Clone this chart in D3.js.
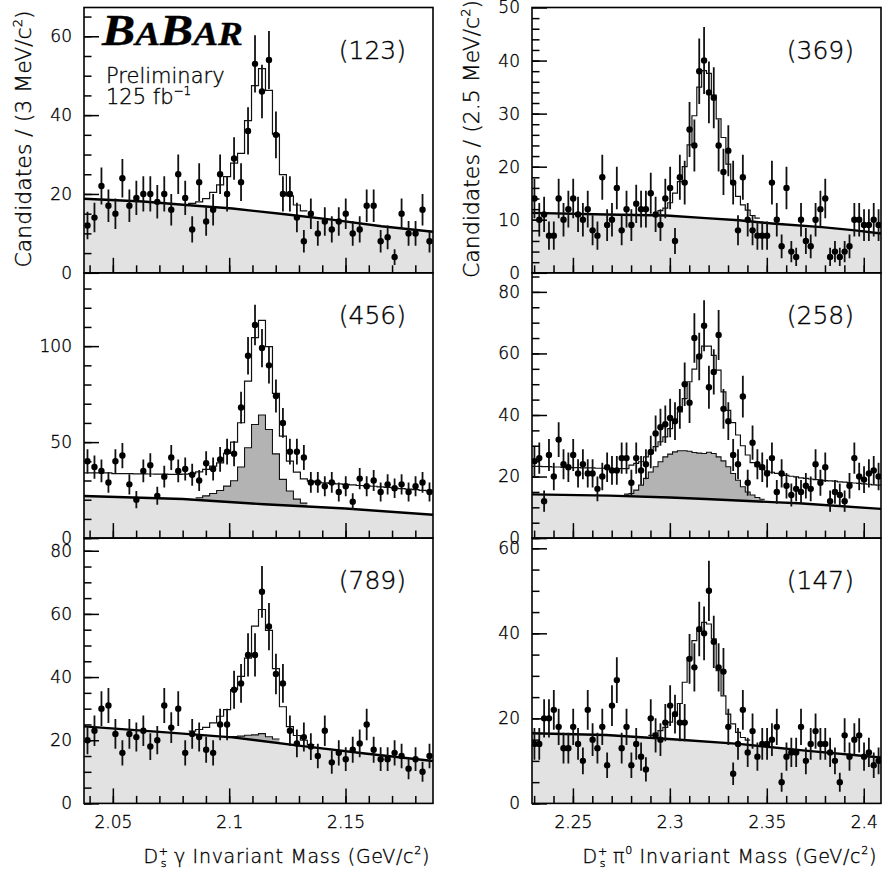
<!DOCTYPE html>
<html>
<head>
<meta charset="utf-8">
<script src="https://cdn.jsdelivr.net/npm/d3@7"></script>
<style>
  body { margin: 0; background: #fff; }
  svg text { font-family: "DejaVu Sans", sans-serif; font-weight: 200; fill: #000; stroke: #000; stroke-width: 0.35px; }
</style>
</head>
<body>
<div id="chart"></div>
<script>
// binning of the two mass spectra (GeV/c^2)
const gammaRange = [2.0376, 2.1876], gammaBin = 0.003;
const pi0Range = [2.2289, 2.4089], pi0Bin = 0.0025;

// (123)  Ds* gamma
const data123 = [12,14,22,17,15,24,17,19,20,20,18,20,16,25,19,11,23,13,16,25,20,29,23,36,53,46,54,35,20,20,14,8,15,10,13,11,13,15,10,11,17,17,8,9,4,15,10,10,16,8];
const fit123Start = 14;
const fit123 = [17.3,17.6,18.0,18.8,20.4,22.3,24.4,27.8,30.3,38.6,47.5,51.8,46.3,35.2,24.9,19.5,17.2,15.7];
const bkg123 = [[2.0376,18.8],[2.063,18.1],[2.0815,17.2],[2.1014,16.3],[2.123,14.9],[2.144,13.5],[2.1655,11.8],[2.1876,10.4]];

// (456)
const data456 = [40,37,35,29,40,43,28,20,35,38,22,32,42,35,36,33,30,39,36,41,45,44,68,95,111,99,90,74,60,45,45,42,29,29,27,29,24,27,19,31,27,30,24,28,26,28,24,27,29,24];
const fit456Start = 0;
const fit456 = [34.0,34.0,34.0,34.0,33.6,33.6,33.6,33.5,33.5,33.4,33.3,33.3,33.2,33.2,33.3,33.6,34.5,35.8,37.5,39.2,44.1,50.0,60.1,81.8,104.4,113.4,99.7,75.4,53.1,40.1,34.4,30.9,29.7,29.2,28.8,28.5,28.2,28.0,27.7,27.4,27.2,27.0,26.7,26.4,26.1,25.8,25.5,25.2,24.9,24.6];
const comp456Start = 16;
const comp456 = [21.0,22.0,23.2,24.8,27.1,29.9,37.0,47.1,59.2,64.1,56.6,43.9,30.6,24.5,20.3,18.2];
const bkg456 = [[2.0376,21.9],[2.08,20.4],[2.115,17.6],[2.15,15.4],[2.1876,12.2]];

// (789)
const data789 = [20,23,30,31,22,16,22,21,23,18,20,31,24,30,16,22,21,17,16,25,25,36,38,47,47,67,56,41,38,23,19,21,18,15,23,13,16,14,17,19,25,17,14,14,16,15,11,14,10,15];
const fit789Start = 15;
const fit789 = [22.9,23.4,24.1,25.5,27.6,29.7,36.0,40.2,46.0,56.1,61.4,54.8,42.7,30.6,24.3,21.5,20.0,18.6];
const comp789Start = 21;
const comp789 = [21.2,21.3,21.6,21.7,22.1,21.1,20.4];
const bkg789 = [[2.0376,24.4],[2.0729,22.5],[2.1014,20.9],[2.1299,18.3],[2.1584,15.8],[2.1876,13.4]];

// (369)  Ds* pi0
const data369 = [14,10,11,7,7,14,10,12,14,11,10,12,8,7,18,9,10,16,8,12,9,13,12,12,15,11,9,14,16,6,18,17,27,24,38,40,34,33,24,19,23,17,8,18,10,8,7,7,7,17,10,5,16,4,3,10,6,5,10,12,14,3,4,3,4,5,10,10,9,9,10,9];
const fit369Start = 25;
const fit369 = [11.3,11.7,12.2,13.2,15.0,17.2,20.0,24.1,29.6,35.0,38.1,37.6,33.5,29.0,25.5,20.5,16.9,14.4,12.8,11.8,10.8,10.3];
const bkg369 = [[2.2289,11.3],[2.2671,11.0],[2.298,10.8],[2.3185,10.3],[2.3356,9.9],[2.3527,9.3],[2.3784,8.6],[2.3956,8.0],[2.4089,7.4]];

// (258)
const data258 = [25,26,12,27,20,32,24,23,27,21,24,21,21,16,20,23,22,22,26,26,18,26,22,24,28,34,36,37,39,38,42,50,44,65,59,69,49,54,66,42,38,27,24,46,18,31,24,23,21,26,15,21,17,14,16,15,17,16,24,18,23,12,15,14,12,17,26,20,19,21,22,20];
const fit258Start = 0;
const fit258 = [23.3,23.3,23.2,23.2,23.1,23.1,23.0,23.0,22.9,22.9,22.8,22.8,22.8,22.7,22.7,22.7,22.6,22.6,22.6,22.6,
  23.7,24.3,24.8,26.4,27.5,29.7,31.3,32.9,35.6,38.3,41.0,45.3,50.8,54.9,59.4,62.4,62.4,59.4,54.6,47.5,
  41.5,37.5,33.5,30.0,27.0,24.5,23.2,22.3,21.8,21.4,21.0,20.7,20.4,20.1,19.9,19.6,19.4,19.2,19.0,18.9,
  18.7,18.6,18.5,18.3,18.2,18.0,17.9,17.8,17.6,17.5,17.3,17.2];
const comp258Start = 19;
const comp258 = [14.3,14.5,15.6,17.2,19.4,21.5,23.2,24.8,26.4,27.3,28.0,28.4,28.4,28.2,27.8,27.6,27.5,27.9,27.5,26.4,25.1,23.2,21.0,18.8,16.7,15.0,14.0,13.2,12.6];
const bkg258 = [[2.2289,14.2],[2.2688,13.8],[2.30,13.2],[2.3185,12.7],[2.3527,11.7],[2.3665,11.3],[2.4089,9.5]];

// (147)
const data147 = [14,14,20,20,22,18,13,13,18,14,10,22,15,13,18,9,23,29,13,18,9,14,11,8,20,16,15,19,23,21,19,19,34,32,41,40,50,38,32,31,18,7,14,22,12,17,11,14,14,15,18,5,11,12,12,18,10,14,17,14,14,12,10,5,16,11,15,16,11,12,9,10];
const fit147Start = 24;
const fit147 = [16.0,16.5,17.1,17.9,19.1,20.6,23.5,28.5,34.3,38.3,40.5,42.6,42.2,38.7,31.2,25.3,21.0,18.7,16.7,15.5,14.9];
const bkg147 = [[2.2289,16.5],[2.2671,16.1],[2.3014,15.1],[2.3356,14.0],[2.3699,12.4],[2.4089,10.8]];

// axis ticks
const gammaMajor = [2.05, 2.1, 2.15];
const gammaMinor = d3.range(2.04, 2.1851, 0.01);
const pi0Major = [2.25, 2.3, 2.35, 2.4];
const pi0Minor = d3.range(2.23, 2.4051, 0.01);

const W = 882, H = 876;
const rowTop = 7.5, rowH = 265.3;
const lightGray = "#e2e2e2", darkGray = "#b3b3b3";

const cols = [
  {x0: 84, x1: 433, range: gammaRange, bin: gammaBin, major: gammaMajor, minor: gammaMinor},
  {x0: 532, x1: 881, range: pi0Range, bin: pi0Bin, major: pi0Major, minor: pi0Minor}
];

const panels = [
  {col: 0, row: 0, label: "(123)", ymax: 67.3, yMajor: [0,20,40,60], yMinorStep: 5, data: data123, fit: fit123, fitStart: fit123Start, bkg: bkg123},
  {col: 0, row: 1, label: "(456)", ymax: 138.2, yMajor: [0,50,100], yMinorStep: 10, data: data456, fit: fit456, fitStart: fit456Start, comp: comp456, compStart: comp456Start, bkg: bkg456},
  {col: 0, row: 2, label: "(789)", ymax: 84.0, yMajor: [0,20,40,60,80], yMinorStep: 5, data: data789, fit: fit789, fitStart: fit789Start, comp: comp789, compStart: comp789Start, bkg: bkg789},
  {col: 1, row: 0, label: "(369)", ymax: 50, yMajor: [0,10,20,30,40,50], yMinorStep: 2, data: data369, fit: fit369, fitStart: fit369Start, bkg: bkg369},
  {col: 1, row: 1, label: "(258)", ymax: 86.2, yMajor: [0,20,40,60,80], yMinorStep: 5, data: data258, fit: fit258, fitStart: fit258Start, comp: comp258, compStart: comp258Start, bkg: bkg258},
  {col: 1, row: 2, label: "(147)", ymax: 62.4, yMajor: [0,20,40,60], yMinorStep: 5, data: data147, fit: fit147, fitStart: fit147Start, bkg: bkg147}
];

const svg = d3.select("#chart").append("svg")
  .attr("width", W).attr("height", H);

// histogram bins -> step points [edge, value]
function stepPoints(vals, start, col) {
  const pts = vals.map((v, i) => [col.range[0] + (start + i) * col.bin, v]);
  pts.push([col.range[0] + (start + vals.length) * col.bin, vals[vals.length - 1]]);
  return pts;
}

panels.forEach((p, k) => {
  const col = cols[p.col];
  const top = rowTop + p.row * rowH, bottom = top + rowH;
  const x = d3.scaleLinear().domain(col.range).range([col.x0, col.x1]);
  const y = d3.scaleLinear().domain([0, p.ymax]).range([bottom, top]);

  svg.append("clipPath").attr("id", "clip" + k)
    .append("rect").attr("x", col.x0).attr("y", top)
    .attr("width", col.x1 - col.x0).attr("height", rowH);

  const g = svg.append("g").attr("clip-path", `url(#clip${k})`);

  const stepArea = d3.area().curve(d3.curveStepAfter)
    .x(d => x(d[0])).y0(y(0)).y1(d => y(d[1]));
  const stepLine = d3.line().curve(d3.curveStepAfter)
    .x(d => x(d[0])).y(d => y(d[1]));

  if (p.comp) {
    g.append("path").attr("d", stepArea(stepPoints(p.comp, p.compStart, col)))
      .attr("fill", darkGray);
  }

  g.append("path")
    .attr("d", d3.area().x(d => x(d[0])).y0(y(0)).y1(d => y(d[1]))(p.bkg))
    .attr("fill", lightGray);

  if (p.comp) {
    g.append("path").attr("d", stepLine(stepPoints(p.comp, p.compStart, col)))
      .attr("fill", "none").attr("stroke", "#111").attr("stroke-width", 1.1);
  }

  g.append("path").attr("d", stepLine(stepPoints(p.fit, p.fitStart, col)))
    .attr("fill", "none").attr("stroke", "#111").attr("stroke-width", 1.2);

  g.append("path")
    .attr("d", d3.line().x(d => x(d[0])).y(d => y(d[1]))(p.bkg))
    .attr("fill", "none").attr("stroke", "#000").attr("stroke-width", 2.4);

  // data points with sqrt(N) error bars
  const pts = p.data.map((v, i) => ({m: col.range[0] + (i + 0.5) * col.bin, v: v}));
  g.selectAll(".err").data(pts).enter().append("line")
    .attr("x1", d => x(d.m)).attr("x2", d => x(d.m))
    .attr("y1", d => y(d.v - Math.sqrt(d.v))).attr("y2", d => y(d.v + Math.sqrt(d.v)))
    .attr("stroke", "#111").attr("stroke-width", 1.8);
  g.selectAll(".pt").data(pts).enter().append("circle")
    .attr("cx", d => x(d.m)).attr("cy", d => y(d.v)).attr("r", 3.2)
    .attr("fill", "#000");

  // axes: ticks point into the frame
  const yMinor = d3.range(0, p.ymax, p.yMinorStep);
  svg.append("g").attr("transform", `translate(${col.x0},0)`)
    .call(d3.axisLeft(y).tickValues(yMinor).tickSize(-7.5).tickFormat(""))
    .call(a => a.select(".domain").remove());
  svg.append("g").attr("transform", `translate(${col.x0},0)`)
    .call(d3.axisLeft(y).tickValues(p.yMajor).tickSize(-15).tickPadding(12).tickFormat(d3.format("d")))
    .call(a => a.select(".domain").remove())
    .call(a => a.selectAll("text").attr("font-size", 17).attr("font-family", null));

  svg.append("g").attr("transform", `translate(0,${bottom})`)
    .call(d3.axisBottom(x).tickValues(col.minor).tickSize(-7.5).tickFormat(""))
    .call(a => a.select(".domain").remove());
  const xa = svg.append("g").attr("transform", `translate(0,${bottom})`)
    .call(d3.axisBottom(x).tickValues(col.major).tickSize(-15).tickPadding(13).tickFormat(d => String(d)))
    .call(a => a.select(".domain").remove())
    .call(a => a.selectAll("text").attr("font-size", 17).attr("font-family", null));
  if (p.row < 2) xa.selectAll("text").remove();

  svg.selectAll(".tick line").attr("stroke", "#000").attr("stroke-width", 1.5);

  svg.append("rect").attr("x", col.x0).attr("y", top)
    .attr("width", col.x1 - col.x0).attr("height", rowH)
    .attr("fill", "none").attr("stroke", "#000").attr("stroke-width", 1.6);

  svg.append("text").attr("x", col.x1 - 27).attr("y", top + 51)
    .attr("text-anchor", "end").attr("font-size", 25).text(p.label);
});

// y titles
function yTitle(xPos, bin) {
  const t = svg.append("text")
    .attr("transform", `translate(${xPos},139) rotate(-90)`)
    .attr("text-anchor", "middle").attr("font-size", 22);
  t.append("tspan").text(`Candidates / (${bin} MeV/c`);
  t.append("tspan").attr("font-size", 13).attr("dy", -9).text("2");
  t.append("tspan").attr("dy", 9).text(")");
}
yTitle(31, "3");
yTitle(479, "2.5");

// x titles
function xTitle(xEnd, particle, sup) {
  const t = svg.append("text").attr("x", xEnd).attr("y", 863)
    .attr("text-anchor", "end").attr("font-size", 19).attr("letter-spacing", 0.7);
  t.append("tspan").text("D");
  t.append("tspan").attr("font-size", 11).attr("dy", -8).text("+");
  t.append("tspan").attr("font-size", 11).attr("dx", -8).attr("dy", 12).text("s");
  t.append("tspan").attr("dy", -4).text(" " + particle);
  if (sup) t.append("tspan").attr("font-size", 11).attr("dy", -9).text(sup);
  t.append("tspan").attr("dy", sup ? 9 : 0).text(" Invariant Mass (GeV/c");
  t.append("tspan").attr("font-size", 11).attr("dy", -9).text("2");
  t.append("tspan").attr("dy", 9).text(")");
}
xTitle(430, "\u03b3", null);
xTitle(877, "\u03c0", "0");

// BaBar logo and labels
const logo = svg.append("text").attr("x", 102).attr("y", 45)
  .attr("textLength", 141).attr("lengthAdjust", "spacingAndGlyphs")
  .style("font-family", "'Liberation Serif', serif")
  .style("font-style", "italic").style("font-weight", "bold").style("fill", "#000");
logo.append("tspan").attr("font-size", 44).text("B");
logo.append("tspan").attr("font-size", 33).text("A");
logo.append("tspan").attr("font-size", 44).text("B");
logo.append("tspan").attr("font-size", 33).text("AR");

svg.append("text").attr("x", 106).attr("y", 83).attr("font-size", 21).text("Preliminary");
const lumi = svg.append("text").attr("x", 106).attr("y", 104).attr("font-size", 21);
lumi.append("tspan").text("125 fb");
lumi.append("tspan").attr("font-size", 12).attr("dy", -9).text("\u22121");
</script>
</body>
</html>
